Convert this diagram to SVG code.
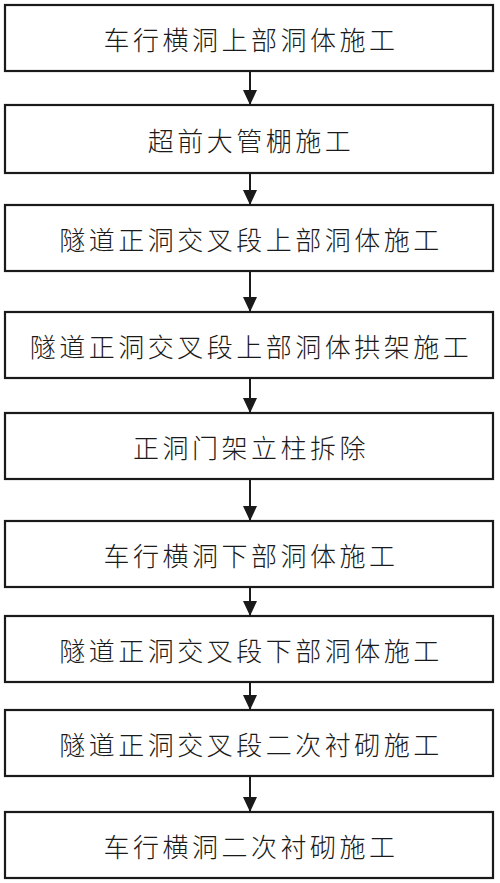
<svg xmlns="http://www.w3.org/2000/svg" width="500" height="883" viewBox="0 0 500 883">
<defs>
<style>
.box{fill:#fff;stroke:#1a1a1a;stroke-width:2.2}
.lbl{font-family:"Noto Sans CJK SC","Noto Sans",sans-serif;font-size:26px;font-weight:300;fill:#1a1a1a;text-anchor:middle;dominant-baseline:central;letter-spacing:3.5px}
.con{stroke:#1a1a1a;stroke-width:2;fill:none}
</style>
<marker id="ah" viewBox="0 0 15 14" refX="15" refY="7" markerWidth="15" markerHeight="14" markerUnits="userSpaceOnUse" orient="auto">
<path d="M0,0 L15,7 L0,14 Z" fill="#1a1a1a"/>
</marker>
</defs>
<rect width="500" height="883" fill="#fff"/>
<g id="connectors">
<line class="con" x1="250" y1="71" x2="250" y2="105" marker-end="url(#ah)"/>
<line class="con" x1="250" y1="173" x2="250" y2="205" marker-end="url(#ah)"/>
<line class="con" x1="250" y1="271" x2="250" y2="312" marker-end="url(#ah)"/>
<line class="con" x1="250" y1="378" x2="250" y2="413" marker-end="url(#ah)"/>
<line class="con" x1="250" y1="479" x2="250" y2="521" marker-end="url(#ah)"/>
<line class="con" x1="250" y1="587" x2="250" y2="616" marker-end="url(#ah)"/>
<line class="con" x1="250" y1="682" x2="250" y2="710" marker-end="url(#ah)"/>
<line class="con" x1="250" y1="776" x2="250" y2="812" marker-end="url(#ah)"/>
</g>
<g id="n1"><rect class="box" x="5" y="5" width="488" height="66"/><text class="lbl" x="251" y="38">车行横洞上部洞体施工</text></g>
<g id="n2"><rect class="box" x="5" y="105" width="488" height="68"/><text class="lbl" x="251" y="139">超前大管棚施工</text></g>
<g id="n3"><rect class="box" x="5" y="205" width="488" height="66"/><text class="lbl" x="251" y="238">隧道正洞交叉段上部洞体施工</text></g>
<g id="n4"><rect class="box" x="5" y="312" width="488" height="66"/><text class="lbl" x="251" y="345">隧道正洞交叉段上部洞体拱架施工</text></g>
<g id="n5"><rect class="box" x="5" y="413" width="488" height="66"/><text class="lbl" x="251" y="446">正洞门架立柱拆除</text></g>
<g id="n6"><rect class="box" x="5" y="521" width="488" height="66"/><text class="lbl" x="251" y="554">车行横洞下部洞体施工</text></g>
<g id="n7"><rect class="box" x="5" y="616" width="488" height="66"/><text class="lbl" x="251" y="649">隧道正洞交叉段下部洞体施工</text></g>
<g id="n8"><rect class="box" x="5" y="710" width="488" height="66"/><text class="lbl" x="251" y="743">隧道正洞交叉段二次衬砌施工</text></g>
<g id="n9"><rect class="box" x="5" y="812" width="488" height="66"/><text class="lbl" x="251" y="845">车行横洞二次衬砌施工</text></g>
</svg>
